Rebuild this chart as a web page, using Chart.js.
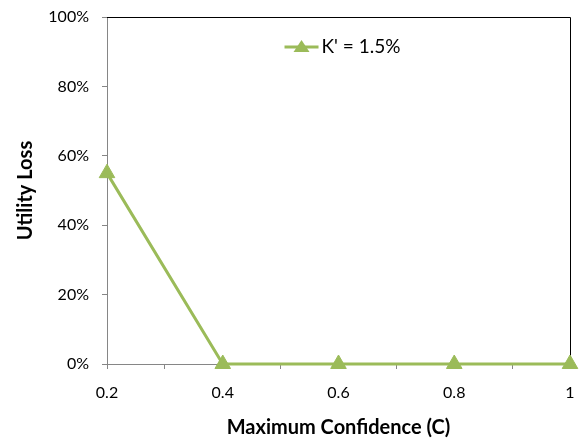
<!DOCTYPE html>
<html>
<head>
<meta charset="utf-8">
<script src="https://cdn.jsdelivr.net/npm/chart.js@4"></script>
<style>
  body { margin: 0; background: #fff; }
  #wrap { width: 579px; height: 444px; }
</style>
</head>
<body>
<div id="wrap"><canvas id="lossChart" width="579" height="444"></canvas></div>
<script>
const confidence = [0.2, 0.4, 0.6, 0.8, 1];
const utilityLoss = [0.55, 0, 0, 0, 0];
const seriesLabel = "K' = 1.5%";
const xTitle = 'Maximum Confidence (C)';
const yTitle = 'Utility Loss';

const green = '#9BBB59';
const axisGray = '#868686';
const fontFamily = 'Lato, "Open Sans", sans-serif';

// box lines on top/right (under the markers) + legend drawn inside the plot
const framePlugin = {
  id: 'frame',
  beforeDatasetsDraw(chart) {
    const { ctx, chartArea: a } = chart;
    ctx.save();
    ctx.strokeStyle = '#000';
    ctx.lineWidth = 1;
    ctx.beginPath();
    ctx.moveTo(a.left, a.top + 0.5);
    ctx.lineTo(a.right + 0.5, a.top + 0.5);
    ctx.lineTo(a.right + 0.5, a.bottom);
    ctx.stroke();
    ctx.restore();
  },
  afterDraw(chart) {
    const { ctx, chartArea: a } = chart;
    ctx.save();
    const ds = chart.data.datasets[0];
    ctx.font = '19px ' + fontFamily;
    const tw = ctx.measureText(ds.label).width;
    const lineW = 34;
    const total = lineW + 3 + tw;
    const cx = (a.left + a.right) / 2 + 4;
    const x0 = cx - total / 2;
    const y = a.top + 30;
    ctx.strokeStyle = green;
    ctx.lineWidth = 3;
    ctx.beginPath();
    ctx.moveTo(x0, y);
    ctx.lineTo(x0 + lineW, y);
    ctx.stroke();
    ctx.fillStyle = green;
    ctx.beginPath();
    ctx.moveTo(x0 + lineW / 2, y - 7);
    ctx.lineTo(x0 + lineW / 2 + 8, y + 5);
    ctx.lineTo(x0 + lineW / 2 - 8, y + 5);
    ctx.closePath();
    ctx.fill();
    ctx.fillStyle = '#000';
    ctx.textBaseline = 'middle';
    ctx.fillText(ds.label, x0 + lineW + 3, y);
    ctx.restore();
  }
};

new Chart(document.getElementById('lossChart'), {
  type: 'line',
  data: {
    datasets: [{
      label: seriesLabel,
      data: confidence.map((c, i) => ({ x: c, y: utilityLoss[i] })),
      borderColor: green,
      backgroundColor: green,
      borderWidth: 3,
      pointStyle: 'triangle',
      pointRadius: 9,
      pointHoverRadius: 9,
      pointBorderWidth: 1,
      clip: false,
      tension: 0
    }]
  },
  options: {
    responsive: false,
    animation: false,
    layout: { autoPadding: false, padding: { top: 17, right: 9, left: 10, bottom: 0 } },
    plugins: { legend: { display: false }, tooltip: { enabled: false } },
    scales: {
      x: {
        type: 'linear',
        min: 0.2,
        max: 1,
        afterFit(scale) {
          scale.height = 80;
          scale.paddingLeft = 0;
          scale.paddingRight = 0;
        },
        ticks: {
          stepSize: 0.1,
          autoSkip: false,
          maxRotation: 0,
          color: '#000',
          font: { family: fontFamily, size: 16 },
          padding: 14,
          callback: v => (Math.round(v * 10) % 2 === 0 ? String(Math.round(v * 10) / 10) : '')
        },
        grid: { drawOnChartArea: false, color: axisGray, tickLength: 5 },
        border: { color: axisGray, width: 1 },
        title: {
          display: true,
          text: xTitle,
          color: '#000',
          font: { family: fontFamily, size: 20, weight: 'bold' },
          padding: { top: 4 }
        }
      },
      y: {
        min: 0,
        max: 1,
        afterFit(scale) {
          scale.width = 97;
          scale.paddingTop = 0;
          scale.paddingBottom = 0;
        },
        ticks: {
          stepSize: 0.2,
          color: '#000',
          font: { family: fontFamily, size: 16 },
          padding: 13,
          callback: v => Math.round(v * 100) + '%'
        },
        grid: { drawOnChartArea: false, color: axisGray, tickLength: 5 },
        border: { color: axisGray, width: 1 },
        title: {
          display: true,
          text: yTitle,
          color: '#000',
          font: { family: fontFamily, size: 20, weight: 'bold' },
          padding: { bottom: 14 }
        }
      }
    }
  },
  plugins: [framePlugin]
});
</script>
</body>
</html>
